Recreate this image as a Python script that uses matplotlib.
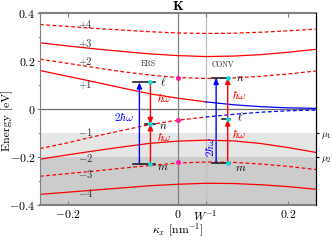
import matplotlib
matplotlib.use('Agg')
import matplotlib.pyplot as plt

plt.rcParams['font.family'] = 'serif'
plt.rcParams['font.serif'] = ['cmr10', 'DejaVu Serif']
plt.rcParams['mathtext.fontset'] = 'cm'
plt.rcParams['axes.formatter.use_mathtext'] = True

# band energies (eV) read at these kappa_x values (nm^-1)
k = [-0.25, -0.2, -0.15, -0.1, -0.05, 0.0, 0.05, 0.1, 0.15, 0.2, 0.25]
W_INV = 0.05

E_p1 = [0.160, 0.136, 0.112, 0.087, 0.063, 0.045, 0.030, 0.018, 0.010, 0.005, 0.003]
E_m1 = [-0.164, -0.140, -0.113, -0.088, -0.064, -0.046, -0.033, -0.022, -0.013, -0.007, -0.004]
E_p2 = [0.207, 0.190, 0.172, 0.155, 0.141, 0.131, 0.127, 0.129, 0.136, 0.146, 0.158]
E_m2 = [-0.208, -0.190, -0.173, -0.157, -0.142, -0.133, -0.129, -0.132, -0.143, -0.160, -0.180]
E_p3 = [0.275, 0.262, 0.250, 0.239, 0.229, 0.222, 0.218, 0.220, 0.226, 0.236, 0.248]
E_m3 = [-0.279, -0.268, -0.257, -0.245, -0.234, -0.224, -0.220, -0.221, -0.228, -0.238, -0.251]
E_p4 = [0.351, 0.343, 0.335, 0.328, 0.321, 0.316, 0.314, 0.315, 0.319, 0.325, 0.332]
E_m4 = [-0.354, -0.345, -0.336, -0.327, -0.318, -0.312, -0.308, -0.309, -0.314, -0.322, -0.333]
E_p5 = [0.440, 0.430, 0.420, 0.413, 0.406, 0.401, 0.398, 0.399, 0.403, 0.409, 0.416]
E_m5 = [-0.440, -0.430, -0.420, -0.412, -0.405, -0.399, -0.397, -0.399, -0.405, -0.413, -0.424]

level_names = ['+4', '+3', '+2', '+1', '$-$1', '$-$2', '$-$3', '$-$4']
level_label_E = [0.350, 0.270, 0.196, 0.100, -0.096, -0.203, -0.268, -0.349]

# states at kappa_x = 0 (pink dots)
dot_E = [0.129, -0.046, -0.221]

# ERS and CONV levels (l, n, m)
ers_E = {'l': 0.111, 'n': -0.0625, 'm': -0.229}
conv_E = {'n': 0.130, 'l': -0.043, 'm': -0.222}
mu_E = [-0.1, -0.2]

RED = '#ff0000'
BLUE = '#0000ff'
PINK = '#ff1aa0'
CYAN = '#19d9d9'
DASH = (0, (3, 2))

fig = plt.figure(figsize=(3.32, 2.40), dpi=100)
ax = fig.add_axes([0.1205, 0.144, 0.8315, 0.803])

ax.axhspan(mu_E[1], mu_E[0], color='#e6e6e6', lw=0, zorder=0)
ax.axhspan(-0.5, mu_E[1], color='#cccccc', lw=0, zorder=0)
ax.axhline(0, color='#707070', lw=0.9, zorder=1)
ax.axvline(0, color='#808080', lw=0.9, zorder=1)
ax.axvline(W_INV, color='#c0c0c0', lw=0.9, zorder=1)

for E, ls in [(E_p2, DASH), (E_m2, '-'), (E_p3, '-'), (E_m3, DASH),
              (E_p4, DASH), (E_m4, '-'), (E_p5, '-'), (E_m5, DASH)]:
    ax.plot(k, E, color=RED, ls=ls, lw=0.9, zorder=2)

# +1 / -1: red up to W^-1, blue after
i0 = k.index(W_INV)
ax.plot(k[:i0 + 1], E_p1[:i0 + 1], color=RED, lw=0.9, zorder=2)
ax.plot(k[i0:], E_p1[i0:], color=BLUE, lw=0.9, zorder=2)
ax.plot(k[:i0 + 1], E_m1[:i0 + 1], color=RED, ls=DASH, lw=0.9, zorder=2)
ax.plot(k[i0:], E_m1[i0:], color=BLUE, ls=DASH, lw=0.9, zorder=2)

for name, E in zip(level_names, level_label_E):
    ax.text(-0.168, E, name, fontsize=7.5, color='#333333', ha='center', va='center', zorder=3)

ax.plot([0] * len(dot_E), dot_E, 'o', color=PINK, ms=3.6, mec='none', zorder=4)

arrow_kw = dict(arrowstyle='-|>,head_length=0.35,head_width=0.15', lw=1.0, shrinkA=0, shrinkB=0)

# ERS
ax.annotate('', xy=(-0.070, ers_E['l']), xytext=(-0.070, ers_E['m']),
            arrowprops=dict(color=BLUE, **arrow_kw), zorder=5)
ax.annotate('', xy=(-0.050, ers_E['n']), xytext=(-0.050, ers_E['m']),
            arrowprops=dict(color=RED, **arrow_kw), zorder=5)
ax.annotate('', xy=(-0.050, ers_E['n']), xytext=(-0.050, ers_E['l']),
            arrowprops=dict(color=RED, **arrow_kw), zorder=5)
ax.plot([-0.081, -0.041], [ers_E['l']] * 2, color='#222222', lw=1.2, zorder=6)
ax.plot([-0.059, -0.041], [ers_E['n']] * 2, color='#222222', lw=1.2, zorder=6)
ax.plot([-0.081, -0.041], [ers_E['m']] * 2, color='#222222', lw=1.2, zorder=6)
ax.plot([-0.050] * 3, list(ers_E.values()), 'o', color=CYAN, ms=3.4, mec='none', zorder=7)
ax.text(-0.054, 0.19, 'ERS', fontsize=5.5, color='#333333', ha='center', va='center')
ax.text(-0.026, ers_E['l'], r'$\ell$', fontsize=8, ha='center', va='center')
ax.text(-0.027, -0.070, r'$n$', fontsize=8, ha='center', va='center')
ax.text(-0.027, -0.243, r'$m$', fontsize=8, ha='center', va='center')
ax.text(-0.025, 0.046, r'$\hbar\omega$', fontsize=8, color=RED, ha='center', va='center')
ax.text(-0.025, -0.114, r'$\hbar\omega$', fontsize=8, color=RED, ha='center', va='center')
ax.text(-0.098, -0.032, r'$2\hbar\omega$', fontsize=8, color=BLUE, ha='center', va='center')

# CONV
ax.annotate('', xy=(0.069, conv_E['n']), xytext=(0.069, conv_E['m']),
            arrowprops=dict(color=BLUE, **arrow_kw), zorder=5)
ax.annotate('', xy=(0.090, conv_E['l']), xytext=(0.090, conv_E['m']),
            arrowprops=dict(color=RED, **arrow_kw), zorder=5)
ax.annotate('', xy=(0.090, conv_E['n']), xytext=(0.090, conv_E['l']),
            arrowprops=dict(color=RED, **arrow_kw), zorder=5)
ax.plot([0.062, 0.095], [conv_E['n']] * 2, color='#222222', lw=1.2, zorder=6)
ax.plot([0.080, 0.095], [conv_E['l']] * 2, color='#222222', lw=1.2, zorder=6)
ax.plot([0.062, 0.095], [conv_E['m']] * 2, color='#222222', lw=1.2, zorder=6)
ax.plot([0.090] * 3, list(conv_E.values()), 'o', color=CYAN, ms=3.4, mec='none', zorder=7)
ax.text(0.081, 0.183, 'CONV', fontsize=5.5, color='#333333', ha='center', va='center')
ax.text(0.113, 0.127, r'$n$', fontsize=8, ha='center', va='center')
ax.text(0.113, -0.032, r'$\ell$', fontsize=8, ha='center', va='center')
ax.text(0.113, -0.244, r'$m$', fontsize=8, ha='center', va='center')
ax.text(0.111, 0.058, r'$\hbar\omega$', fontsize=8, color=RED, ha='center', va='center')
ax.text(0.111, -0.104, r'$\hbar\omega$', fontsize=8, color=RED, ha='center', va='center')
ax.text(0.058, -0.158, r'$2\hbar\omega$', fontsize=8, color=BLUE, ha='center', va='center',
        rotation=90)

ax.set_xlim(-0.25, 0.25)
ax.set_ylim(-0.4, 0.4)
ax.set_xticks([-0.2, 0, W_INV, 0.2])
ax.set_xticklabels(['$-0.2$', '$0$', '$W^{-1}$', '$0.2$'])
ax.set_yticks([0.4, 0.2, 0, -0.2, -0.4])
ax.set_yticklabels(['$0.4$', '$0.2$', '$0$', '$-0.2$', '$-0.4$'])
ax.set_yticks([0.3, 0.1, -0.1, -0.3], minor=True)
ax.tick_params(axis='x', direction='in', top=True, length=3, color='#808080', labelsize=8.5, pad=2)
ax.tick_params(axis='y', direction='out', length=2, color='#808080', labelsize=8.5, pad=1.5)
ax.tick_params(axis='y', which='minor', direction='out', length=1.5, color='#808080')

ax.set_xlabel(r'$\kappa_x$ [nm$^{-1}$]', fontsize=8.5, labelpad=-1)
fig.text(7 / 332, 0.5, 'Energy [eV]', fontsize=8.5, rotation=90, ha='center', va='center')
ax.set_title(r'$\mathbf{K}$', fontsize=10, pad=1)

for side in ['left', 'top', 'bottom']:
    ax.spines[side].set_color('#808080')
ax.spines['top'].set_linewidth(1.5)
ax.spines['bottom'].set_linewidth(1.5)
ax.spines['right'].set_color('black')

ax2 = ax.twinx()
ax2.set_ylim(-0.4, 0.4)
ax2.set_yticks(mu_E)
ax2.set_yticklabels([r'$\mu_1$', r'$\mu_2$'])
ax2.tick_params(axis='y', direction='out', length=2.5, labelsize=7, pad=1)
for side in ['left', 'top', 'bottom']:
    ax2.spines[side].set_visible(False)

fig.savefig('out.png', dpi=100)
